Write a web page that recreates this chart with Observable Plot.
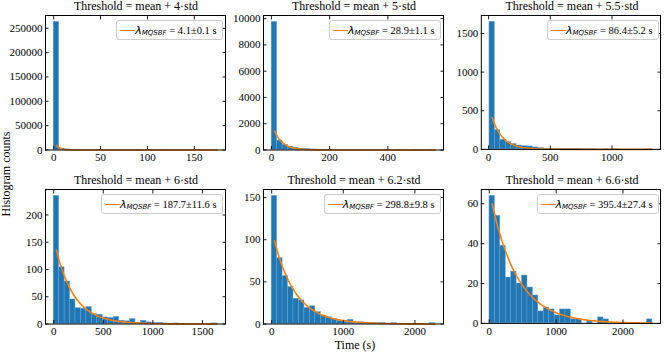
<!DOCTYPE html>
<html>
<head>
<meta charset="utf-8">
<script src="https://cdn.jsdelivr.net/npm/d3@7"></script>
<script src="https://cdn.jsdelivr.net/npm/@observablehq/plot@0.6"></script>
<style>
  body { margin: 0; background: #fff; }
  #fig { position: relative; width: 664px; height: 354px; overflow: hidden; background: #fff;
         font-family: "Liberation Serif", "Times New Roman", serif; color: #000; }
  .panel { position: absolute; }
  .title { position: absolute; font-size: 12px; line-height: 12px; white-space: nowrap; transform: translateX(-50%); }
  .legend { position: absolute; box-sizing: border-box; height: 20px; display: flex; align-items: center;
            border: 1px solid #cccccc; border-radius: 3px; background: rgba(255,255,255,0.85);
            padding: 0 5px 0 3px; white-space: nowrap; }
  .hl { display: inline-block; width: 15px; height: 0; border-top: 1.6px solid #ff7f0e; }
  .lam { font-family: "DejaVu Sans", sans-serif; font-style: italic; font-size: 11px; }
  .sub { font-family: "DejaVu Sans", sans-serif; font-style: italic; font-size: 7px; position: relative; top: 2.5px; }
  .val { font-size: 10.5px; white-space: pre; }
  .xlabel { position: absolute; font-size: 12px; line-height: 12px; white-space: nowrap; transform: translateX(-50%); }
  .ylabel { position: absolute; font-size: 12px; line-height: 12px; white-space: nowrap;
            transform: translate(-50%, -50%) rotate(-90deg); }
</style>
</head>
<body>
<div id="fig"></div>
<script>
// ---------------- data ----------------
const thresholds = ["4", "5", "5.5", "6", "6.2", "6.6"];
const fitLambda = [4.1, 28.9, 86.4, 187.7, 298.8, 395.4];
const fitLambdaErr = [0.1, 1.1, 5.2, 11.6, 9.8, 27.4];
const fitAmplitude = [9500, 1450, 410, 135, 99, 60];

// histogram range (first edge, last edge); 30 equal bins each
const binRange = [[0, 174.5], [1, 563], [7, 1327], [0, 1650], [0, 2285], [3, 2439]];

const counts4std   = [263000, 3000, 1200, 400, 150, 80, 40, 20, 10, 6, 4, 3, 2, 1, 1, 1, 0, 1, 0, 0, 1, 0, 0, 0, 0, 0, 0, 0, 0, 1];
const counts5std   = [9750, 720, 400, 250, 160, 100, 70, 45, 30, 20, 14, 10, 7, 5, 4, 3, 2, 2, 1, 1, 1, 1, 0, 1, 0, 0, 1, 0, 0, 1];
const counts55std  = [1650, 250, 125, 95, 70, 50, 42, 38, 25, 16, 10, 8, 6, 4, 3, 2, 2, 1, 1, 1, 0, 1, 0, 1, 0, 0, 0, 0, 0, 1];
const counts6std   = [235, 104, 78, 45, 29, 28, 31, 18, 17, 12, 11, 13, 6, 5, 9, 2, 6, 3, 2, 2, 1, 0, 1, 0, 0, 0, 0, 0, 0, 1];
const counts62std  = [152, 78, 57, 44, 30, 28, 19, 21, 14, 10, 8, 6, 4, 4, 5, 2, 2, 1, 1, 1, 1, 0, 1, 0, 0, 0, 0, 0, 0, 1];
const counts66std  = [64, 54, 39, 23, 26, 20, 24, 18, 14, 6, 8, 7, 4, 7, 7, 2, 2, 0, 1, 0, 3, 2, 0, 0, 0, 0, 0, 0, 0, 2];
const allCounts = [counts4std, counts5std, counts55std, counts6std, counts62std, counts66std];

const xTicks = [[0, 50, 100, 150], [0, 200, 400], [0, 500, 1000], [0, 500, 1000, 1500], [0, 1000, 2000], [0, 1000, 2000]];
const yTicks = [[0, 50000, 100000, 150000, 200000, 250000], [0, 2000, 4000, 6000, 8000, 10000], [0, 500, 1000, 1500],
                [0, 50, 100, 150, 200], [0, 50, 100, 150], [0, 20, 40, 60]];

// ---------------- layout ----------------
const frameLeft = [45, 263, 481, 45, 263, 481];
const frameTop = [15, 15, 15, 189, 189, 189];
const frameW = 180, frameH = 134.5;
const ml = 44, mr = 4, mt = 4, mb = 20;

const fig = document.getElementById("fig");

for (let i = 0; i < 6; i++) {
  const [lo, hi] = binRange[i];
  const n = allCounts[i].length;
  const w = (hi - lo) / n;
  const bars = allCounts[i].map((c, k) => ({x1: lo + k * w, x2: lo + (k + 1) * w, count: c})).filter(d => d.count > 0);
  const x0 = lo + w / 2;
  const fit = d3.range(0, 81).map(j => {
    const x = x0 + (hi - x0) * j / 80;
    return {x, y: fitAmplitude[i] * Math.exp(-(x - x0) / fitLambda[i])};
  });
  const pad = 0.05 * (hi - lo);
  const ymax = 1.05 * d3.max(allCounts[i]);

  const chart = Plot.plot({
    width: frameW + ml + mr,
    height: frameH + mt + mb,
    marginLeft: ml, marginRight: mr, marginTop: mt, marginBottom: mb,
    style: {background: "transparent", fontFamily: "'Liberation Serif', serif", fontSize: "11px", color: "#000", overflow: "visible"},
    x: {domain: [lo - pad, hi + pad]},
    y: {domain: [0, ymax]},
    marks: [
      Plot.rectY(bars, {x1: "x1", x2: "x2", y: "count", fill: "#1f77b4", stroke: "#6aa3d2", strokeWidth: 0.45}),
      Plot.line(fit, {x: "x", y: "y", stroke: "#ff7f0e", strokeWidth: 1.6}),
      Plot.frame({stroke: "#000", strokeWidth: 1}),
      Plot.axisX({anchor: "bottom", ticks: xTicks[i], tickSize: -3.5, tickPadding: 7, tickFormat: d => String(d), label: null, strokeWidth: 0.9}),
      Plot.axisX({anchor: "top", ticks: xTicks[i], tickSize: -3.5, tickFormat: () => "", label: null, strokeWidth: 0.9}),
      Plot.axisY({anchor: "left", ticks: yTicks[i], tickSize: -3.5, tickPadding: 6.5, tickFormat: d => String(d), label: null, strokeWidth: 0.9}),
      Plot.axisY({anchor: "right", ticks: yTicks[i], tickSize: -3.5, tickFormat: () => "", label: null, strokeWidth: 0.9})
    ]
  });
  const holder = document.createElement("div");
  holder.className = "panel";
  holder.style.left = (frameLeft[i] - ml) + "px";
  holder.style.top = (frameTop[i] - mt) + "px";
  holder.appendChild(chart);
  fig.appendChild(holder);

  // title
  const t = document.createElement("div");
  t.className = "title";
  t.textContent = "Threshold = mean + " + thresholds[i] + "\u00B7std";
  t.style.left = (frameLeft[i] + frameW / 2 + 1) + "px";
  t.style.top = (frameTop[i] - 15) + "px";
  fig.appendChild(t);

  // legend
  const lg = document.createElement("div");
  lg.className = "legend";
  lg.style.right = (664 - (frameLeft[i] + frameW - 2.5)) + "px";
  lg.style.top = (frameTop[i] + 5) + "px";
  lg.innerHTML = '<span class="hl"></span><span class="lam">\u03BB</span><span class="sub">MQSBF</span>' +
    '<span class="val"> = ' + fitLambda[i].toFixed(1) + '\u00B1' + fitLambdaErr[i].toFixed(1) + ' s</span>';
  fig.appendChild(lg);
}

const xl = document.createElement("div");
xl.className = "xlabel";
xl.textContent = "Time (s)";
xl.style.left = "355px";
xl.style.top = "339px";
fig.appendChild(xl);

const yl = document.createElement("div");
yl.className = "ylabel";
yl.textContent = "Histogram counts";
yl.style.left = "6px";
yl.style.top = "174px";
fig.appendChild(yl);
</script>
</body>
</html>
